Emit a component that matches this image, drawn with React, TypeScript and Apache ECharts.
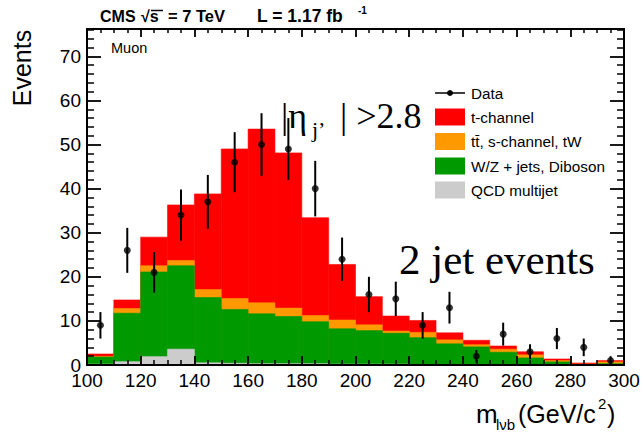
import React, { useEffect, useRef } from "react";
import * as echarts from "echarts";

// Bin lower edges (GeV/c^2), width 10
const binLow = [100, 110, 120, 130, 140, 150, 160, 170, 180, 190, 200, 210, 220, 230, 240, 250, 260, 270, 280, 290];
const binWidth = 10;
// Stacked MC components (events per bin)
const qcd = [0.2, 0.75, 1.9, 3.6, 0.5, 0.4, 0.3, 0.3, 0.3, 0.2, 0.2, 0.2, 0.1, 0.1, 0.1, 0.1, 0.05, 0.05, 0, 0];
const wzJets = [1.6, 11.0, 19.2, 18.9, 14.8, 12.2, 11.3, 10.7, 9.5, 8.0, 7.6, 7.0, 6.1, 4.7, 4.0, 2.8, 1.55, 0.65, 0.1, 0.3];
const ttbar = [0.15, 1.05, 1.4, 1.2, 1.8, 2.5, 2.5, 1.9, 1.4, 2.0, 1.3, 0.5, 1.2, 0.9, 0.5, 0.7, 0.7, 0.3, 0.13, 0.4];
const tChannel = [0.55, 1.95, 6.5, 12.6, 21.7, 33.9, 39.4, 35.2, 22.2, 12.6, 6.4, 3.4, 2.7, 1.6, 1.0, 0.7, 0.7, 0.36, 0.22, 0.3];
// Data
const dataCounts = [9, 26, 21, 34, 37, 46, 50, 49, 40, 24, 16, 15, 9, 13, 2, 7, 3, 6, 4, 1];
const dataErr = [3.0, 5.1, 4.6, 5.8, 6.1, 6.8, 7.1, 7.0, 6.3, 4.9, 4.0, 3.9, 3.0, 3.6, 1.4, 2.6, 1.7, 2.4, 2.0, 1.0];

const legendLabels = ["Data", "t-channel", "tt\u0304, s-channel, tW", "W/Z + jets, Diboson", "QCD multijet"];
const colors = { tch: "#ff0000", tt: "#ff9900", wz: "#009900", qcd: "#cccccc" };

const SANS = '"Liberation Sans", Arial, Helvetica, sans-serif';
const SERIF = '"Liberation Serif", "Times New Roman", serif';

function cum(...layers: number[][]) {
  return layers[0].map((_, i) => layers.reduce((s, l) => s + l[i], 0));
}

function histSeries(name: string, color: string, tops: number[], z: number) {
  return {
    type: "custom",
    name,
    xAxisIndex: 0,
    yAxisIndex: 0,
    z,
    clip: true,
    silent: true,
    encode: { x: [0, 1], y: 2 },
    data: tops.map((t, i) => [binLow[i], binLow[i] + binWidth, t]),
    renderItem: (params: any, api: any) => {
      const p0 = api.coord([api.value(0), api.value(2)]);
      const p1 = api.coord([api.value(1), 0]);
      return {
        type: "rect",
        shape: { x: p0[0], y: p0[1], width: p1[0] - p0[0], height: p1[1] - p0[1] },
        style: { fill: color, stroke: color, lineWidth: 0.6 },
      };
    },
  };
}

function txt(x: number, y: number, text: string, font: string, extra: any = {}) {
  return {
    type: "text",
    x,
    y,
    z: 100,
    silent: true,
    ...extra,
    style: {
      text,
      font,
      fill: "#000",
      align: extra.align || "left",
      textAlign: extra.align || "left",
      verticalAlign: "middle",
      textVerticalAlign: "middle",
    },
  };
}

export default function App() {
  const ref = useRef<HTMLDivElement>(null);
  useEffect(() => {
    if (!ref.current) return;
    const chart = echarts.init(ref.current, undefined, { renderer: "svg" });

    const topQcd = cum(qcd);
    const topWz = cum(qcd, wzJets);
    const topTt = cum(qcd, wzJets, ttbar);
    const topAll = cum(qcd, wzJets, ttbar, tChannel);

    const axisCommon = {
      type: "value",
      z: 10,
      axisLine: { show: true, onZero: false, lineStyle: { color: "#000", width: 2 } },
      splitLine: { show: false },
    };

    const legendY = [93, 117, 141.5, 166, 190];
    const boxH = 17;

    const option: any = {
      animation: false,
      backgroundColor: "#fff",
      grid: { left: 87, right: 20, top: 29, bottom: 68, containLabel: false, outerBoundsMode: "none" },
      xAxis: [
        {
          ...axisCommon,
          position: "bottom",
          min: 100,
          max: 300,
          interval: 20,
          axisTick: { show: true, inside: true, length: 9, lineStyle: { color: "#000", width: 1.8 } },
          minorTick: { show: true, splitNumber: 4, length: 5, lineStyle: { color: "#000", width: 1.5 } },
          axisLabel: { show: true, color: "#000", fontSize: 19, fontFamily: SANS, margin: 6 },
        },
        {
          ...axisCommon,
          position: "top",
          min: 100,
          max: 300,
          interval: 20,
          axisTick: { show: true, inside: true, length: 8, lineStyle: { color: "#000", width: 1.8 } },
          minorTick: { show: true, splitNumber: 4, length: 4, lineStyle: { color: "#000", width: 1.5 } },
          axisLabel: { show: false },
        },
      ],
      yAxis: [
        {
          ...axisCommon,
          position: "left",
          min: 0,
          max: 76.2,
          interval: 10,
          axisTick: { show: true, inside: true, length: 14, lineStyle: { color: "#000", width: 1.8 } },
          minorTick: { show: true, splitNumber: 5, length: 7, lineStyle: { color: "#000", width: 1.5 } },
          axisLabel: { show: true, color: "#000", fontSize: 19, fontFamily: SANS, margin: 6, showMaxLabel: false },
        },
        {
          ...axisCommon,
          position: "right",
          min: 0,
          max: 76.2,
          interval: 10,
          axisTick: { show: true, inside: true, length: 14, lineStyle: { color: "#000", width: 1.8 } },
          minorTick: { show: true, splitNumber: 5, length: 7, lineStyle: { color: "#000", width: 1.5 } },
          axisLabel: { show: false },
        },
      ],
      series: [
        histSeries("t-channel", colors.tch, topAll, 1),
        histSeries("tt", colors.tt, topTt, 2),
        histSeries("W/Z", colors.wz, topWz, 3),
        histSeries("QCD", colors.qcd, topQcd, 4),
        {
          type: "custom",
          name: "DataErr",
          z: 6,
          silent: true,
          encode: { x: 0, y: 1 },
          data: dataCounts.map((v, i) => [binLow[i] + binWidth / 2, v, dataErr[i]]),
          renderItem: (params: any, api: any) => {
            const x = api.value(0), v = api.value(1), e = api.value(2);
            const a = api.coord([x, v + e]);
            const b = api.coord([x, Math.max(0, v - e)]);
            return {
              type: "line",
              shape: { x1: a[0], y1: a[1], x2: b[0], y2: b[1] },
              style: { stroke: "#000", lineWidth: 2 },
            };
          },
        },
        {
          type: "scatter",
          name: "Data",
          z: 7,
          silent: true,
          symbol: "circle",
          symbolSize: 7,
          itemStyle: { color: "#000" },
          data: dataCounts.map((v, i) => [binLow[i] + binWidth / 2, v]),
        },
      ],
      graphic: [
        // header
        txt(100, 16, "CMS", `bold 16px ${SANS}`),
        txt(141, 16, "\u221As", `bold 16px ${SANS}`),
        { type: "line", z: 100, shape: { x1: 151, y1: 10.5, x2: 163, y2: 10.5 }, style: { stroke: "#000", lineWidth: 1.5 } },
        txt(168, 16, "= 7 TeV", `bold 16.5px ${SANS}`),
        txt(257, 16, "L = 1.17 fb", `bold 17.5px ${SANS}`),
        txt(358, 10, "-1", `bold 10px ${SANS}`),
        // Muon
        txt(111, 48, "Muon", `14.5px ${SANS}`),
        // y-axis title
        txt(22, 68, "Events", `25px ${SANS}`, { rotation: Math.PI / 2, align: "center" }),
        // x-axis title
        txt(476, 414, "m", `26px ${SANS}`),
        txt(496, 424, "l\u03BDb", `15px ${SANS}`),
        txt(518, 414, "(GeV/c", `25px ${SANS}`),
        txt(598, 403, "2", `15px ${SANS}`),
        txt(607, 414, ")", `25px ${SANS}`),
        // eta cut text
        txt(281, 115.5, "|\u03B7", `36px ${SERIF}`),
        txt(312, 129.5, "j\u2019", `22px ${SERIF}`),
        txt(340, 115.5, "| >2.8", `36px ${SERIF}`),
        // 2 jet events
        txt(399, 259.5, "2 jet events", `43px ${SERIF}`),
        // legend
        { type: "line", z: 100, shape: { x1: 435, y1: legendY[0], x2: 465, y2: legendY[0] }, style: { stroke: "#000", lineWidth: 1.5 } },
        { type: "circle", z: 100, shape: { cx: 450, cy: legendY[0], r: 3 }, style: { fill: "#000" } },
        { type: "rect", z: 100, shape: { x: 435, y: legendY[1] - boxH / 2, width: 30, height: boxH }, style: { fill: colors.tch } },
        { type: "rect", z: 100, shape: { x: 435, y: legendY[2] - boxH / 2, width: 30, height: boxH }, style: { fill: colors.tt } },
        { type: "rect", z: 100, shape: { x: 435, y: legendY[3] - boxH / 2, width: 30, height: boxH }, style: { fill: colors.wz } },
        { type: "rect", z: 100, shape: { x: 435, y: legendY[4] - boxH / 2, width: 30, height: boxH }, style: { fill: colors.qcd } },
        ...legendLabels.map((l, i) => txt(471, legendY[i], l, `15.3px ${SANS}`)),
      ],
    };
    chart.setOption(option);
    return () => chart.dispose();
  }, []);
  return <div ref={ref} style={{ position: "fixed", left: 0, top: 0, width: 644, height: 433 }} />;
}
